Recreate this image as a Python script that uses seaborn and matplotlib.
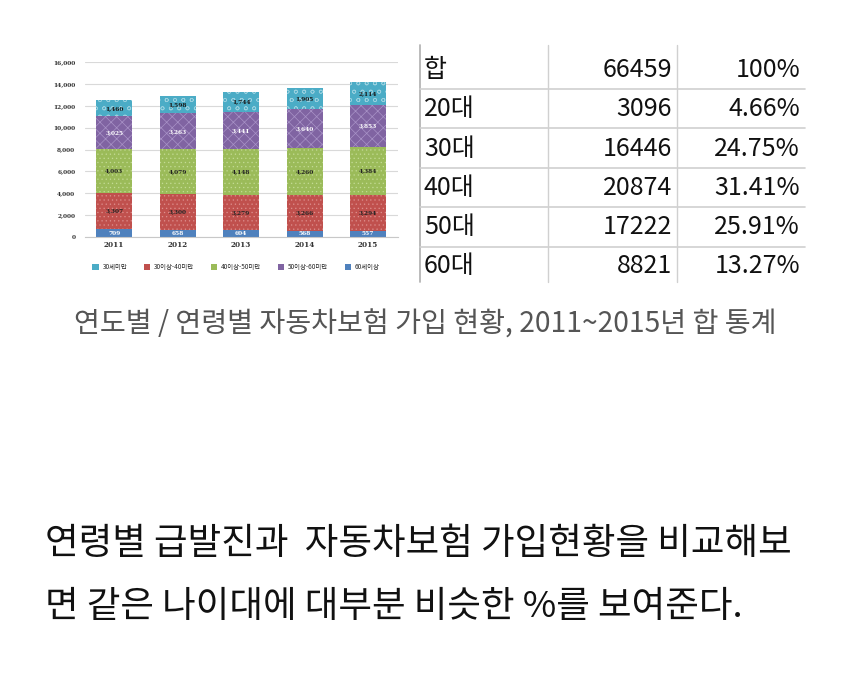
import matplotlib
matplotlib.use("Agg")
import matplotlib.pyplot as plt
from matplotlib.lines import Line2D
from matplotlib.patches import Patch
import seaborn as sns
import pandas as pd
import numpy as np

sns.set_theme(style="white")
plt.rcParams['font.family'] = ['Noto Sans CJK KR', 'DejaVu Sans']
plt.rcParams['hatch.linewidth'] = 0.5

# ---- data ----
years = ["2011", "2012", "2013", "2014", "2015"]
series_names = ["60세이상", "30이상-40미만", "40이상-50미만", "50이상-60미만", "30세미만"]  # bottom -> top
v60 = [709, 658, 604, 568, 557]
v30_40 = [3307, 3300, 3279, 3266, 3294]
v40_50 = [4003, 4079, 4148, 4260, 4384]
v50_60 = [3025, 3263, 3441, 3640, 3853]
v_u30 = [1460, 1598, 1744, 1905, 2114]
legend_order = ["30세미만", "30이상-40미만", "40이상-50미만", "50이상-60미만", "60세이상"]
y_ticks = [0, 2000, 4000, 6000, 8000, 10000, 12000, 14000, 16000]

table_labels = ["합", "20대", "30대", "40대", "50대", "60대"]
table_counts = [66459, 3096, 16446, 20874, 17222, 8821]
table_pcts = ["100%", "4.66%", "24.75%", "31.41%", "25.91%", "13.27%"]

caption = "연도별 / 연령별 자동차보험 가입 현황, 2011~2015년 합 통계"
body_lines = ["연령별 급발진과  자동차보험 가입현황을 비교해보",
              "면 같은 나이대에 대부분 비슷한 %를 보여준다."]

colors = {"60세이상": "#4f81bd", "30이상-40미만": "#c0504d", "40이상-50미만": "#9bbb59",
          "50이상-60미만": "#8064a2", "30세미만": "#4bacc6"}
hatches = {"60세이상": "", "30이상-40미만": "....", "40이상-50미만": "....",
           "50이상-60미만": "xxx", "30세미만": "oo"}
hatch_cols = {"60세이상": (1, 1, 1, 0), "30이상-40미만": (1, 0.85, 0.85, 0.35),
              "40이상-50미만": (0.95, 1, 0.85, 0.35), "50이상-60미만": (0.9, 0.85, 1, 0.4),
              "30세미만": (1, 1, 1, 0.4)}
label_colors = {"60세이상": "white", "30이상-40미만": "#222222", "40이상-50미만": "#222222",
                "50이상-60미만": "white", "30세미만": "#1a1a1a"}

W, H = 850, 682
fig = plt.figure(figsize=(W / 100, H / 100), dpi=100)
fig.patch.set_facecolor("white")

def fx(px):
    return px / W

def fy(py):
    return 1 - py / H

# ---- stacked bar chart ----
ax = fig.add_axes([fx(85), fy(237), fx(398) - fx(85), fy(62) - fy(237)])
vals = [v60, v30_40, v40_50, v50_60, v_u30]
cum = np.cumsum(np.array(vals), axis=0)
for i in range(len(series_names) - 1, -1, -1):
    name = series_names[i]
    df = pd.DataFrame({"year": years, "val": cum[i]})
    sns.barplot(data=df, x="year", y="val", ax=ax, color=colors[name], width=0.57,
                saturation=1, edgecolor=hatch_cols[name], linewidth=0, hatch=hatches[name],
                zorder=2)
for p in ax.patches:
    p.set_linewidth(0)
for i, name in enumerate(series_names):
    bottoms = cum[i] - np.array(vals[i])
    for j, y in enumerate(years):
        ax.text(j, bottoms[j] + vals[i][j] / 2, f"{vals[i][j]:,}", ha="center", va="center",
                fontsize=4.2, color=label_colors[name], fontweight="bold", zorder=5,
                family="DejaVu Serif")
ax.set_ylim(0, 16000)
ax.set_xlim(-0.46, 4.47)
ax.set_yticks(y_ticks)
ax.set_yticklabels([f"{t:,}" for t in y_ticks], fontsize=4.2, fontweight="bold",
                   family="DejaVu Serif", color="#333333")
ax.set_xticks(range(len(years)))
ax.set_xticklabels(years, fontsize=5.2, fontweight="bold", family="DejaVu Serif",
                   color="#333333")
ax.tick_params(axis="both", length=0, pad=3)
ax.tick_params(axis="y", pad=7)
ax.set_xlabel("")
ax.set_ylabel("")
ax.yaxis.grid(True, color="#d9d9d9", linewidth=0.8, zorder=0)
ax.set_axisbelow(True)
for s in ["top", "right", "left"]:
    ax.spines[s].set_visible(False)
ax.spines["bottom"].set_color("#c8c8c8")
ax.spines["bottom"].set_linewidth(0.8)

handles = [Patch(facecolor=colors[n], edgecolor="none") for n in legend_order]
fig.legend(handles, legend_order, loc="center", bbox_to_anchor=(fx(236), fy(267)),
           ncol=5, frameon=False, fontsize=4.6, handlelength=1.0, handleheight=1.0,
           columnspacing=2.6, handletextpad=0.6)

# ---- table ----
line_col = "#d0d0d0"
fig.add_artist(Line2D([fx(420), fx(420)], [fy(45), fy(282)], color="#b5b5b5", lw=1.3))
for xv in [548, 677]:
    fig.add_artist(Line2D([fx(xv), fx(xv)], [fy(45), fy(282)], color=line_col, lw=1.0))
for yv in [89, 128, 168, 207, 247]:
    fig.add_artist(Line2D([fx(420), fx(805)], [fy(yv), fy(yv)], color=line_col, lw=1.2))
row_y = [70, 109, 149, 188, 227, 266]
for lab, cnt, pct, yy in zip(table_labels, table_counts, table_pcts, row_y):
    fig.text(fx(424), fy(yy), lab, ha="left", va="center", fontsize=18, color="#111111")
    fig.text(fx(672), fy(yy), str(cnt), ha="right", va="center", fontsize=18, color="#111111")
    fig.text(fx(800), fy(yy), pct, ha="right", va="center", fontsize=18, color="#111111")

# ---- caption and body text ----
fig.text(fx(425), fy(325), caption, ha="center", va="center", fontsize=20.3, color="#555555")
fig.text(fx(45), fy(544), body_lines[0], ha="left", va="center", fontsize=26.3, color="#111111")
fig.text(fx(45), fy(607), body_lines[1], ha="left", va="center", fontsize=26.3, color="#111111")

fig.savefig("out.png", dpi=100, facecolor="white")
